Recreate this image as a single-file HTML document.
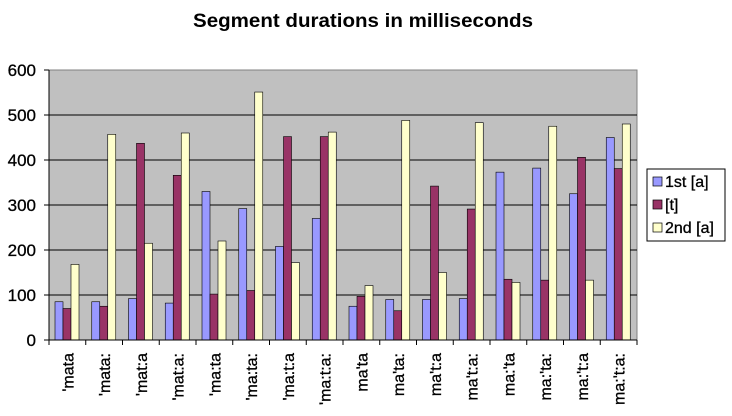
<!DOCTYPE html>
<html><head><meta charset="utf-8"><style>body{margin:0;background:#fff}svg{display:block}</style></head>
<body>
<svg id="s" width="732" height="416" xmlns="http://www.w3.org/2000/svg" font-family="Liberation Sans, Arial, sans-serif">
<rect width="732" height="416" fill="#fff"/>
<text x="363" y="27" font-size="19" font-weight="bold" text-anchor="middle" textLength="340" lengthAdjust="spacingAndGlyphs">Segment durations in milliseconds</text>
<rect x="49" y="70" width="588" height="270" fill="#c0c0c0" stroke="#808080" stroke-width="1"/>
<g id="g"></g>
<line x1="49" y1="70" x2="49" y2="340" stroke="#000"/>
<line x1="49" y1="340" x2="637" y2="340" stroke="#000"/>
<g font-size="17" text-anchor="end" stroke="#000" stroke-width="0.3">
<text x="36" y="76">600</text><text x="36" y="121">500</text><text x="36" y="166">400</text>
<text x="36" y="211">300</text><text x="36" y="256">200</text><text x="36" y="301">100</text><text x="36" y="346">0</text>
</g>
<rect x="647" y="169" width="78" height="72" fill="#fff" stroke="#000"/>
<rect x="653" y="177" width="9" height="9" fill="#9999ff" stroke="#000" stroke-width=".7"/>
<rect x="653" y="200" width="9" height="9" fill="#993366" stroke="#000" stroke-width=".7"/>
<rect x="653" y="223" width="9" height="9" fill="#ffffcc" stroke="#000" stroke-width=".7"/>
<g font-size="16" stroke="#000" stroke-width="0.3"><text x="665" y="187">1st [a]</text><text x="665" y="210">[t]</text><text x="665" y="233">2nd [a]</text></g>
</svg>
<script>
const d=[[85,70,168],[85,75,457],[92,437,215],[82,366,460],[330,102,220],[292,110,551],[208,452,172],[270,452,462],[75,97,121],[90,65,488],[90,342,150],[92,291,483],[373,135,128],[382,133,475],[325,406,133],[450,381,480]];
const L=["'mata","'mata:","'mat:a","'mat:a:","'ma:ta","'ma:ta:","'ma:t:a","'ma:t:a:","ma'ta","ma'ta:","ma't:a","ma't:a:","ma:'ta","ma:'ta:","ma:'t:a","ma:'t:a:"];
const c=["#9999ff","#993366","#ffffcc"];
let h='';const W=588/16;
for(let v=100;v<=500;v+=100){const y=340-v*0.45;h+=`<line x1="49" x2="637" y1="${y}" y2="${y}" stroke="#000"/>`;}
for(let v=0;v<=600;v+=100){const y=340-v*0.45;h+=`<line x1="44" x2="49" y1="${y}" y2="${y}" stroke="#000"/>`;}
d.forEach((g,i)=>{const x0=49+i*W;
g.forEach((v,j)=>{const hh=v*0.45;h+=`<rect x="${x0+6+j*8}" y="${340-hh}" width="8" height="${hh}" fill="${c[j]}" stroke="#000" stroke-width="0.6"/>`;});
h+=`<text transform="translate(${x0+W/2+6},353) rotate(-90)" font-size="16" text-anchor="end" stroke="#000" stroke-width="0.3">${L[i]}</text>`;});
for(let i=0;i<=16;i++){const x=49+i*W;h+=`<line x1="${x}" x2="${x}" y1="340" y2="345" stroke="#000"/>`;}
document.getElementById('g').innerHTML=h;
</script>
</body></html>
